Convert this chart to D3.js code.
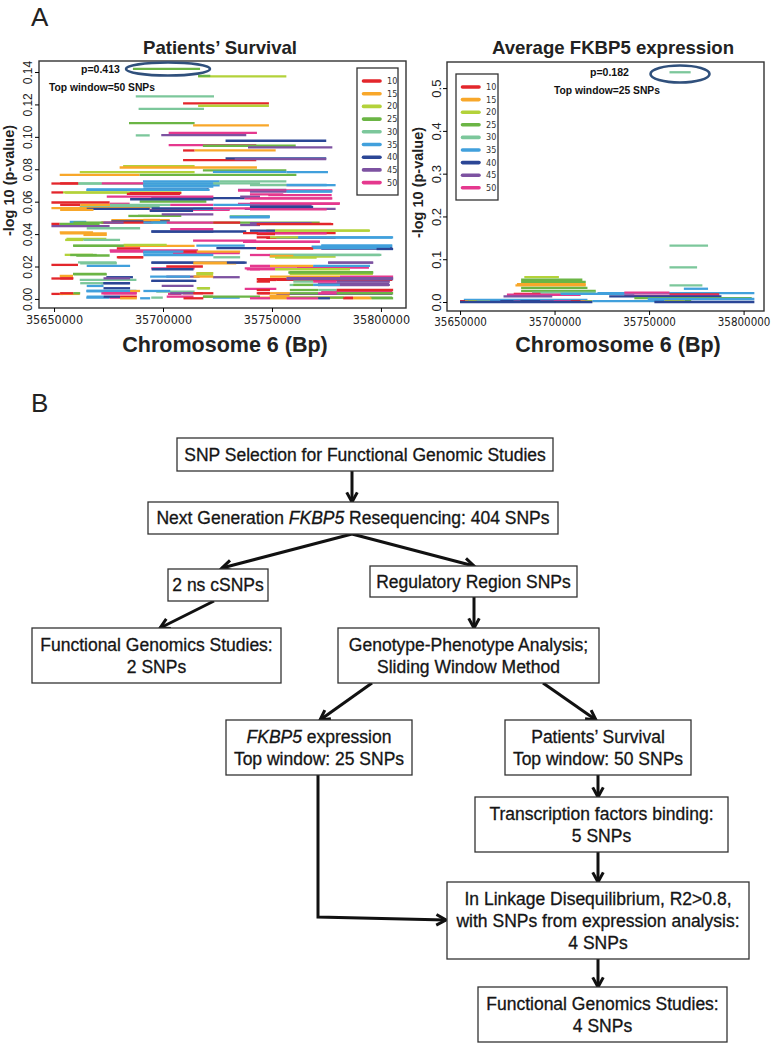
<!DOCTYPE html>
<html lang="en">
<head>
<meta charset="UTF-8">
<title>FKBP5 sliding window SNP selection</title>
<script src="https://cdn.jsdelivr.net/npm/d3@7/dist/d3.min.js"></script>
<style>
  body { margin: 0; background: #fff; }
  svg { display: block; font-family: "Liberation Sans", Arial, sans-serif; }
  .narrow { font-family: "Liberation Sans Narrow", "Arial Narrow", "DejaVu Sans Condensed", sans-serif; }
</style>
</head>
<body>
<svg id="fig" width="771" height="1046"></svg>
<script>
// ---- data ----
const windowSizes = [10, 15, 20, 25, 30, 35, 40, 45, 50];
const windowColors = ['#e3262b', '#f8a72a', '#b3d23a', '#6bb545', '#7cc79b', '#41a0dc', '#2b4696', '#7d52a1', '#e5388e'];
const xTicks = [35650000, 35700000, 35750000, 35800000];
const survivalYTicks = [0, 0.02, 0.04, 0.06, 0.08, 0.10, 0.12, 0.14];
const exprYTicks = [0, 0.1, 0.2, 0.3, 0.4, 0.5];

// [start kb, end kb, -log10 p, window size]
const survivalSegments = [
  [35686.2, 35717.0, 0.1419, 25], [35716.1, 35756.6, 0.1373, 20], [35716.1, 35721.7, 0.1376, 25],
  [35687.5, 35723.4, 0.1250, 30], [35709.2, 35748.6, 0.1206, 10], [35716.1, 35748.6, 0.1192, 20],
  [35688.8, 35718.8, 0.1172, 30], [35684.4, 35714.5, 0.1085, 25], [35713.8, 35748.6, 0.1071, 15],
  [35687.5, 35693.9, 0.1009, 30], [35699.2, 35738.2, 0.1011, 45], [35702.6, 35743.1, 0.1025, 50],
  [35728.7, 35774.9, 0.0976, 40], [35702.6, 35742.8, 0.0949, 50], [35718.3, 35760.9, 0.0945, 25],
  [35739.0, 35777.7, 0.0935, 45], [35709.2, 35714.5, 0.0916, 10], [35714.5, 35751.7, 0.0916, 15],
  [35709.2, 35742.8, 0.0856, 10], [35728.7, 35774.9, 0.0867, 40], [35732.9, 35774.9, 0.0862, 45],
  [35681.7, 35714.5, 0.0819, 20], [35680.1, 35743.1, 0.0811, 15], [35652.6, 35689.3, 0.0766, 15],
  [35661.8, 35714.5, 0.0782, 20], [35718.3, 35756.6, 0.0793, 25], [35722.9, 35756.6, 0.0784, 35],
  [35756.6, 35775.7, 0.0782, 35], [35689.3, 35761.2, 0.0766, 25], [35648.8, 35661.0, 0.0712, 10],
  [35661.0, 35726.0, 0.0712, 30], [35690.8, 35726.0, 0.0725, 35], [35690.8, 35726.0, 0.0700, 35],
  [35691.0, 35721.0, 0.0676, 40], [35726.0, 35756.6, 0.0725, 30], [35756.6, 35772.6, 0.0702, 45],
  [35772.6, 35779.2, 0.0702, 35], [35648.8, 35654.1, 0.0657, 10], [35654.1, 35708.4, 0.0657, 20],
  [35684.7, 35708.4, 0.0653, 10], [35664.8, 35721.4, 0.0673, 35], [35734.4, 35756.6, 0.0673, 45],
  [35734.4, 35777.7, 0.0669, 50], [35756.6, 35777.7, 0.0663, 35], [35648.8, 35675.5, 0.0595, 10],
  [35675.5, 35684.7, 0.0587, 50], [35689.3, 35719.9, 0.0601, 25], [35694.6, 35737.5, 0.0622, 40],
  [35737.5, 35777.7, 0.0620, 50], [35661.8, 35698.5, 0.0566, 30], [35648.8, 35693.9, 0.0560, 15],
  [35665.0, 35693.9, 0.0556, 40], [35693.9, 35730.6, 0.0550, 50], [35737.5, 35779.2, 0.0556, 45],
  [35734.4, 35781.0, 0.0587, 50], [35693.9, 35713.8, 0.0544, 40], [35713.8, 35730.6, 0.0556, 35],
  [35688.5, 35708.4, 0.0513, 25], [35730.6, 35748.9, 0.0510, 30], [35730.6, 35748.9, 0.0504, 35],
  [35657.2, 35664.8, 0.0475, 35], [35676.3, 35703.1, 0.0486, 15], [35676.3, 35703.1, 0.0478, 40],
  [35671.7, 35695.4, 0.0471, 10], [35648.8, 35652.6, 0.0463, 10], [35652.6, 35670.9, 0.0463, 25],
  [35648.8, 35675.5, 0.0449, 45], [35694.6, 35721.4, 0.0471, 30], [35721.4, 35771.9, 0.0471, 25],
  [35743.6, 35777.2, 0.0463, 10], [35652.6, 35667.9, 0.0410, 15], [35694.6, 35738.2, 0.0416, 40],
  [35655.7, 35674.0, 0.0371, 20], [35747.4, 35794.5, 0.0422, 20], [35736.7, 35779.2, 0.0406, 10],
  [35747.4, 35779.2, 0.0377, 10], [35752.0, 35805.2, 0.0379, 35], [35658.7, 35684.7, 0.0329, 25],
  [35713.8, 35742.8, 0.0360, 50], [35736.7, 35771.9, 0.0352, 50], [35675.5, 35716.1, 0.0299, 50],
  [35682.4, 35714.5, 0.0327, 15], [35715.3, 35737.5, 0.0329, 35], [35724.5, 35742.8, 0.0313, 40],
  [35742.8, 35772.6, 0.0313, 10], [35772.6, 35805.2, 0.0330, 35], [35772.6, 35805.2, 0.0323, 35],
  [35772.6, 35805.2, 0.0311, 40], [35660.2, 35675.5, 0.0268, 25], [35654.9, 35667.9, 0.0272, 20],
  [35679.4, 35690.8, 0.0257, 10], [35690.8, 35735.2, 0.0286, 35], [35704.6, 35735.2, 0.0282, 50],
  [35748.9, 35800.2, 0.0272, 30], [35748.9, 35779.2, 0.0261, 20], [35648.8, 35661.0, 0.0210, 10],
  [35661.0, 35678.6, 0.0226, 30], [35694.6, 35737.5, 0.0224, 40], [35713.8, 35733.6, 0.0220, 15],
  [35737.5, 35761.2, 0.0189, 50], [35775.7, 35796.3, 0.0224, 45], [35761.2, 35794.5, 0.0194, 50],
  [35694.6, 35714.5, 0.0189, 50], [35701.5, 35718.3, 0.0200, 10], [35652.6, 35658.7, 0.0142, 15],
  [35658.7, 35674.0, 0.0154, 25], [35674.0, 35686.2, 0.0134, 40], [35648.8, 35658.7, 0.0126, 10],
  [35661.8, 35687.8, 0.0117, 30], [35671.7, 35684.7, 0.0097, 40], [35694.6, 35715.3, 0.0111, 40],
  [35701.5, 35716.8, 0.0138, 45], [35715.3, 35722.9, 0.0159, 15], [35715.3, 35722.9, 0.0150, 20],
  [35722.9, 35735.2, 0.0134, 45], [35743.6, 35752.0, 0.0117, 10], [35752.0, 35805.2, 0.0117, 10],
  [35758.1, 35796.3, 0.0165, 25], [35758.1, 35796.3, 0.0155, 20], [35771.1, 35803.7, 0.0095, 45],
  [35771.1, 35803.7, 0.0086, 45], [35758.1, 35771.9, 0.0086, 30], [35648.8, 35654.1, 0.0031, 10],
  [35652.6, 35661.8, 0.0031, 15], [35664.8, 35687.8, 0.0049, 35], [35671.7, 35687.8, 0.0035, 50],
  [35696.9, 35714.5, 0.0045, 30], [35702.3, 35708.4, 0.0031, 50], [35709.2, 35718.3, 0.0035, 10],
  [35716.1, 35721.4, 0.0066, 25], [35664.8, 35675.5, 0.0008, 35], [35675.5, 35686.2, 0.0008, 50],
  [35694.6, 35699.9, 0.0008, 30], [35722.9, 35735.2, 0.0008, 35], [35718.3, 35722.9, 0.0014, 25],
  [35743.6, 35748.9, 0.0035, 10], [35743.6, 35783.3, 0.0008, 15], [35783.3, 35787.2, 0.0008, 10],
  [35787.2, 35794.8, 0.0008, 15], [35794.8, 35805.2, 0.0008, 25], [35748.9, 35758.1, 0.0019, 15],
  [35758.1, 35783.3, 0.0008, 25], [35737.5, 35752.0, 0.0062, 50], [35772.6, 35805.2, 0.0045, 50],
  [35752.0, 35805.2, 0.0031, 45],
  // denser lower-left block
  [35652.8, 35661.2, 0.0713, 10], [35661.2, 35671.9, 0.0713, 30], [35671.9, 35691.0, 0.0713, 50],
  [35691.0, 35723.1, 0.0713, 35], [35691.0, 35723.1, 0.0693, 35], [35723.1, 35744.5, 0.0713, 30],
  [35665.0, 35720.1, 0.0676, 35], [35655.1, 35683.4, 0.0656, 20], [35683.4, 35707.8, 0.0648, 10],
  [35674.2, 35723.1, 0.0631, 50], [35735.4, 35744.5, 0.0631, 45], [35684.9, 35723.1, 0.0615, 40],
  [35652.8, 35662.0, 0.0580, 10], [35662.0, 35675.7, 0.0580, 15], [35675.7, 35703.3, 0.0580, 30],
  [35703.3, 35723.1, 0.0580, 50], [35723.1, 35744.5, 0.0580, 35], [35694.8, 35723.1, 0.0559, 40],
  [35723.1, 35744.5, 0.0559, 50], [35652.8, 35668.1, 0.0549, 15], [35699.4, 35723.1, 0.0522, 45],
  [35684.1, 35694.1, 0.0512, 25], [35691.0, 35698.7, 0.0487, 15], [35658.9, 35672.7, 0.0471, 25],
  [35672.7, 35681.9, 0.0471, 45], [35691.0, 35701.7, 0.0471, 35], [35701.7, 35723.1, 0.0471, 50],
  [35723.1, 35735.4, 0.0471, 10], [35735.4, 35744.5, 0.0456, 45], [35665.0, 35689.5, 0.0436, 30],
  [35703.3, 35723.1, 0.0430, 50], [35694.8, 35723.1, 0.0415, 40], [35652.8, 35674.2, 0.0405, 15],
  [35663.5, 35674.2, 0.0395, 15], [35655.1, 35663.5, 0.0364, 20], [35663.5, 35680.3, 0.0364, 30],
  [35681.9, 35701.7, 0.0333, 20], [35658.9, 35681.9, 0.0327, 25], [35678.8, 35689.5, 0.0312, 10],
  [35675.7, 35691.0, 0.0292, 50], [35691.0, 35709.4, 0.0292, 35], [35709.4, 35715.5, 0.0292, 10],
  [35715.5, 35735.4, 0.0292, 15], [35691.0, 35723.1, 0.0271, 35], [35657.4, 35669.6, 0.0271, 25],
  [35678.8, 35691.0, 0.0257, 10], [35723.1, 35735.4, 0.0257, 30], [35694.8, 35714.0, 0.0224, 40],
  [35714.0, 35729.3, 0.0224, 15], [35729.3, 35738.4, 0.0224, 40], [35662.0, 35678.8, 0.0220, 30],
  [35665.0, 35684.9, 0.0204, 35], [35694.8, 35714.0, 0.0183, 40], [35738.4, 35744.5, 0.0183, 50],
  [35715.5, 35723.1, 0.0158, 20], [35658.9, 35674.2, 0.0152, 25], [35694.1, 35712.4, 0.0138, 35],
  [35714.0, 35723.1, 0.0138, 15], [35652.8, 35658.9, 0.0127, 10], [35672.7, 35684.9, 0.0127, 45],
  [35694.8, 35714.0, 0.0111, 40], [35662.0, 35672.7, 0.0097, 30], [35672.7, 35684.9, 0.0097, 40],
  [35665.0, 35672.7, 0.0080, 35], [35699.4, 35714.0, 0.0080, 45], [35672.7, 35684.9, 0.0066, 40],
  [35715.5, 35721.6, 0.0066, 20], [35665.0, 35684.9, 0.0049, 35], [35684.9, 35689.5, 0.0049, 15],
  [35691.0, 35703.3, 0.0049, 35], [35652.8, 35658.9, 0.0035, 10], [35658.9, 35662.0, 0.0035, 25],
  [35672.7, 35688.0, 0.0035, 50], [35703.3, 35714.0, 0.0035, 45], [35714.0, 35723.1, 0.0035, 10],
  [35665.0, 35672.7, 0.0014, 35], [35672.7, 35680.3, 0.0014, 40], [35680.3, 35688.0, 0.0014, 10],
  [35701.7, 35714.0, 0.0014, 50], [35718.5, 35744.5, 0.0014, 25], [35680.3, 35688.0, 0.0004, 15],
  [35689.5, 35694.1, 0.0004, 35], [35709.4, 35718.5, 0.0004, 10],
  // denser lower-right block
  [35739.9, 35756.7, 0.0703, 30], [35756.7, 35775.1, 0.0703, 35], [35739.9, 35756.7, 0.0662, 45],
  [35756.7, 35777.4, 0.0662, 35], [35739.9, 35755.2, 0.0645, 50], [35748.3, 35777.4, 0.0640, 50],
  [35739.9, 35777.4, 0.0621, 50], [35739.9, 35781.2, 0.0590, 50], [35739.9, 35768.2, 0.0574, 45],
  [35739.9, 35768.9, 0.0568, 40], [35739.9, 35775.1, 0.0553, 50], [35739.9, 35749.1, 0.0508, 35],
  [35739.9, 35768.2, 0.0467, 45], [35743.0, 35778.1, 0.0462, 10], [35739.9, 35751.4, 0.0421, 40],
  [35751.4, 35795.0, 0.0421, 20], [35743.7, 35775.1, 0.0405, 50], [35743.0, 35751.4, 0.0400, 10],
  [35743.0, 35749.1, 0.0380, 10], [35749.1, 35762.1, 0.0380, 20], [35762.1, 35805.6, 0.0380, 35],
  [35739.9, 35772.0, 0.0354, 50], [35768.2, 35804.1, 0.0322, 35], [35768.2, 35804.1, 0.0315, 35],
  [35798.0, 35805.6, 0.0308, 40], [35743.0, 35768.9, 0.0310, 10], [35739.9, 35749.1, 0.0271, 50],
  [35749.1, 35799.5, 0.0271, 30], [35749.1, 35759.8, 0.0265, 15], [35751.4, 35770.5, 0.0255, 20],
  [35775.8, 35796.5, 0.0224, 45], [35739.9, 35749.1, 0.0204, 50], [35749.1, 35768.9, 0.0204, 15],
  [35768.9, 35795.0, 0.0204, 35], [35739.9, 35751.4, 0.0183, 50], [35751.4, 35785.8, 0.0183, 20],
  [35757.5, 35796.5, 0.0163, 25], [35749.1, 35781.2, 0.0138, 15], [35781.2, 35805.6, 0.0138, 50],
  [35743.0, 35756.7, 0.0122, 10], [35756.7, 35805.6, 0.0122, 45], [35756.7, 35805.6, 0.0128, 45],
  [35743.0, 35749.1, 0.0107, 10], [35759.8, 35768.9, 0.0107, 30], [35768.9, 35779.7, 0.0107, 50],
  [35779.7, 35804.1, 0.0107, 45], [35759.8, 35768.9, 0.0087, 25], [35768.9, 35781.2, 0.0087, 35],
  [35781.2, 35804.1, 0.0087, 45], [35743.0, 35749.1, 0.0055, 10], [35758.2, 35771.2, 0.0055, 25],
  [35771.2, 35779.7, 0.0055, 30], [35779.7, 35805.6, 0.0055, 10], [35743.0, 35749.1, 0.0035, 10],
  [35749.1, 35758.2, 0.0035, 15], [35758.2, 35771.2, 0.0035, 25], [35771.2, 35779.7, 0.0035, 50],
  [35779.7, 35805.6, 0.0035, 25], [35739.9, 35749.1, 0.0004, 50], [35749.1, 35756.7, 0.0004, 15],
  [35756.7, 35771.2, 0.0004, 50], [35771.2, 35776.6, 0.0004, 40], [35782.7, 35787.3, 0.0004, 10],
  [35787.3, 35795.7, 0.0004, 15], [35795.7, 35805.6, 0.0004, 25]
];

const exprSegments = [
  [35760.8, 35772.0, 0.537, 30], [35760.8, 35781.2, 0.132, 30], [35760.8, 35775.4, 0.081, 30],
  [35760.8, 35778.2, 0.039, 30], [35768.4, 35781.2, 0.031, 35], [35684.0, 35702.3, 0.058, 20],
  [35682.3, 35714.7, 0.052, 25], [35682.3, 35716.5, 0.047, 25], [35680.1, 35716.5, 0.042, 15],
  [35679.3, 35716.5, 0.039, 15], [35682.3, 35717.4, 0.033, 25], [35682.3, 35721.8, 0.026, 25],
  [35688.1, 35721.8, 0.022, 30], [35678.4, 35692.6, 0.019, 10], [35674.8, 35713.8, 0.017, 50],
  [35673.0, 35698.8, 0.013, 45], [35703.2, 35742.2, 0.019, 35], [35722.7, 35805.7, 0.021, 35],
  [35736.9, 35760.8, 0.022, 50], [35760.8, 35787.1, 0.018, 10], [35736.9, 35787.1, 0.015, 50],
  [35728.9, 35788.3, 0.013, 40], [35742.2, 35804.3, 0.009, 25], [35652.0, 35717.4, 0.005, 35],
  [35749.3, 35805.7, 0.007, 35],
  [35650.0, 35652.7, 0.002, 10], [35652.7, 35654.4, 0.002, 15], [35654.4, 35658.9, 0.002, 20],
  [35658.9, 35666.0, 0.002, 30], [35666.0, 35671.3, 0.002, 35], [35671.3, 35678.4, 0.002, 40],
  [35678.4, 35681.9, 0.002, 45], [35681.9, 35692.6, 0.002, 40], [35692.6, 35699.6, 0.002, 45],
  [35699.6, 35708.5, 0.002, 50], [35708.5, 35713.8, 0.002, 10], [35713.8, 35716.5, 0.002, 15],
  [35716.5, 35720.0, 0.002, 20], [35720.0, 35758.2, 0.002, 35], [35758.2, 35768.8, 0.002, 20],
  [35768.8, 35772.3, 0.002, 25], [35752.8, 35805.7, 0.000, 40], [35650.0, 35720.0, 0.000, 40]
];

// ---- drawing ----
const svg = d3.select('#fig');
const colorOf = d3.scaleOrdinal().domain(windowSizes).range(windowColors);

svg.append('text').attr('x', 31).attr('y', 26).attr('font-size', 26).attr('fill', '#222').text('A');
svg.append('text').attr('x', 31).attr('y', 412).attr('font-size', 26).attr('fill', '#222').text('B');

function drawPanel(p) {
  const g = svg.append('g');
  const x = d3.scaleLinear().domain(p.xDomain).range([p.left, p.right]);
  const y = d3.scaleLinear().domain(p.yDomain).range([p.bottom, p.top]);

  g.append('clipPath').attr('id', p.id + '-clip')
    .append('rect').attr('x', p.left).attr('y', p.top)
    .attr('width', p.right - p.left).attr('height', p.bottom - p.top);

  g.append('g').attr('clip-path', `url(#${p.id}-clip)`)
    .selectAll('line').data(p.segments).join('line')
    .attr('x1', d => x(d[0] * 1000)).attr('x2', d => x(d[1] * 1000))
    .attr('y1', d => y(d[2])).attr('y2', d => y(d[2]))
    .attr('stroke', d => colorOf(d[3]))
    .attr('stroke-width', 2.3);

  g.append('rect').attr('x', p.left).attr('y', p.top)
    .attr('width', p.right - p.left).attr('height', p.bottom - p.top)
    .attr('fill', 'none').attr('stroke', '#333').attr('stroke-width', 1.4);

  const xa = g.append('g').attr('transform', `translate(0,${p.bottom})`)
    .call(d3.axisBottom(x).tickValues(xTicks).tickSize(4).tickPadding(3).tickFormat(d3.format('d')));
  xa.select('.domain').remove();
  xa.selectAll('text').attr('class', 'narrow').attr('font-size', p.xTickSize).attr('fill', '#222');

  const ya = g.append('g').attr('transform', `translate(${p.left},0)`)
    .call(d3.axisLeft(y).tickValues(p.yTicks).tickSize(4).tickFormat(d3.format(p.yFormat)));
  ya.select('.domain').remove();
  ya.selectAll('text')
    .attr('transform', 'rotate(-90)')
    .attr('x', 0).attr('y', p.yLabelOff).attr('dy', 0)
    .attr('text-anchor', 'middle')
    .attr('font-family', '"Liberation Sans", Arial, sans-serif')
    .attr('font-size', p.yTickSize).attr('fill', '#222');

  g.append('text').attr('x', p.titleX).attr('y', 54).attr('text-anchor', 'middle')
    .attr('font-size', 18.6).attr('font-weight', 'bold').attr('fill', '#222').text(p.title);
  g.append('text').attr('x', p.titleX + 5).attr('y', 352).attr('text-anchor', 'middle')
    .attr('font-size', 21.5).attr('font-weight', 'bold').attr('fill', '#222').text('Chromosome 6 (Bp)');
  g.append('text').attr('transform', `translate(${p.yTitleX},${(p.top + p.bottom) / 2 - 4}) rotate(-90)`)
    .attr('text-anchor', 'middle').attr('font-size', 14.5).attr('font-weight', 'bold')
    .attr('fill', '#222').text('-log 10 (p-value)');

  // legend
  const lg = g.append('g');
  lg.append('rect').attr('x', p.legend.x).attr('y', p.legend.y)
    .attr('width', p.legend.w).attr('height', p.legend.h)
    .attr('fill', '#fff').attr('stroke', '#333').attr('stroke-width', 1.3);
  const items = lg.selectAll('g').data(windowSizes).join('g')
    .attr('transform', (d, i) => `translate(${p.legend.x},${p.legend.y + 13 + i * p.legend.step})`);
  items.append('line').attr('x1', 6.5).attr('x2', 23).attr('y1', 0).attr('y2', 0)
    .attr('stroke', d => colorOf(d)).attr('stroke-width', 3.6).attr('stroke-linecap', 'round');
  items.append('text').attr('class', 'narrow').attr('x', 30).attr('y', 3)
    .attr('font-size', 9).attr('fill', '#333').text(d => d);

  // top window annotation
  const a = p.note;
  g.append('ellipse').attr('cx', a.cx).attr('cy', a.cy).attr('rx', a.rx).attr('ry', a.ry)
    .attr('fill', 'none').attr('stroke', '#30507c').attr('stroke-width', 2.6);
  g.append('text').attr('x', a.px).attr('y', a.py).attr('font-size', 10.5)
    .attr('font-weight', 'bold').attr('fill', '#111').text(a.p);
  g.append('text').attr('x', a.tx).attr('y', a.ty).attr('font-size', 10.3)
    .attr('font-weight', 'bold').attr('fill', '#111').text(a.t);
}

drawPanel({
  id: 'surv', title: 'Patients\u2019 Survival', segments: survivalSegments,
  left: 39, right: 406, top: 61, bottom: 308,
  xDomain: [35643100, 35811500], yDomain: [-0.0056, 0.1468],
  yTicks: survivalYTicks, yFormat: '.2f', yTickSize: 12, yLabelOff: -7, xTickSize: 12.5,
  titleX: 220, yTitleX: 14,
  legend: { x: 357, y: 68, w: 41, h: 127, step: 12.7 },
  note: { cx: 168, cy: 69, rx: 42, ry: 6.5, p: 'p=0.413', px: 81, py: 73, t: 'Top window=50 SNPs', tx: 49, ty: 91 }
});

drawPanel({
  id: 'expr', title: 'Average FKBP5 expression', segments: exprSegments,
  left: 447, right: 764, top: 62, bottom: 311,
  xDomain: [35643100, 35810800], yDomain: [-0.021, 0.561],
  yTicks: exprYTicks, yFormat: '.1f', yTickSize: 13, yLabelOff: -6, xTickSize: 11.5,
  titleX: 613, yTitleX: 423,
  legend: { x: 456, y: 74, w: 42, h: 126, step: 12.6 },
  note: { cx: 680, cy: 74, rx: 29.5, ry: 8.5, p: 'p=0.182', px: 590, py: 76, t: 'Top window=25 SNPs', tx: 554, ty: 94 }
});

// ---- panel B flowchart ----
const boxes = [
  { x: 177, y: 438, w: 376, h: 33, lines: [[['SNP Selection for Functional Genomic Studies']]] },
  { x: 148, y: 502, w: 410, h: 32, lines: [[['Next Generation '], ['FKBP5', 1], [' Resequencing: 404 SNPs']]] },
  { x: 168, y: 569, w: 100, h: 32, lines: [[['2 ns cSNPs']]] },
  { x: 370, y: 566, w: 207, h: 31, lines: [[['Regulatory Region SNPs']]] },
  { x: 32, y: 628, w: 249, h: 55, lines: [[['Functional Genomics Studies:']], [['2 SNPs']]] },
  { x: 338, y: 628, w: 261, h: 55, lines: [[['Genotype-Phenotype Analysis;']], [['Sliding Window Method']]] },
  { x: 226, y: 720, w: 186, h: 55, lines: [[['FKBP5', 1], [' expression']], [['Top window: 25 SNPs']]] },
  { x: 505, y: 720, w: 186, h: 55, lines: [[['Patients\u2019 Survival']], [['Top window: 50 SNPs']]] },
  { x: 475, y: 797, w: 253, h: 55, lines: [[['Transcription factors binding:']], [['5 SNPs']]] },
  { x: 447, y: 882, w: 302, h: 77, lines: [[['In Linkage Disequilibrium, R2>0.8,']], [['with SNPs from expression analysis:']], [['4 SNPs']]] },
  { x: 478, y: 987, w: 249, h: 55, lines: [[['Functional Genomics Studies:']], [['4 SNPs']]] }
];

const arrows = [
  [[352, 471], [352, 502]],
  [[352, 534], [222, 568]],
  [[352, 534], [474, 566]],
  [[214, 601], [160, 628]],
  [[474, 597], [474, 628]],
  [[372, 683], [320, 720]],
  [[543, 683], [596, 720]],
  [[598, 775], [598, 797]],
  [[318, 775], [318, 917], [446, 920]],
  [[598, 852], [598, 882]],
  [[598, 959], [598, 987]]
];

const fc = svg.append('g');
fc.selectAll('path.arrow').data(arrows).join('path')
  .attr('d', d => d3.line()(d))
  .attr('fill', 'none').attr('stroke', '#111').attr('stroke-width', 3);

fc.selectAll('path.head').data(arrows).join('path')
  .attr('d', d => {
    const [x1, y1] = d[d.length - 2], [x2, y2] = d[d.length - 1];
    const ang = Math.atan2(y2 - y1, x2 - x1), len = 11, spread = 0.5;
    const a = [x2 - len * Math.cos(ang - spread), y2 - len * Math.sin(ang - spread)];
    const b = [x2 - len * Math.cos(ang + spread), y2 - len * Math.sin(ang + spread)];
    return d3.line()([a, [x2, y2], b]);
  })
  .attr('fill', 'none').attr('stroke', '#111').attr('stroke-width', 3)
  .attr('stroke-linejoin', 'miter');

const bx = fc.selectAll('g.box').data(boxes).join('g');
bx.append('rect').attr('x', d => d.x).attr('y', d => d.y).attr('width', d => d.w).attr('height', d => d.h)
  .attr('fill', '#fff').attr('stroke', '#333').attr('stroke-width', 1.3);
bx.each(function (d) {
  const n = d.lines.length, lh = 22;
  const y0 = d.y + d.h / 2 - (n - 1) * lh / 2 + 6;
  d.lines.forEach((parts, i) => {
    const t = d3.select(this).append('text')
      .attr('x', d.x + d.w / 2).attr('y', y0 + i * lh)
      .attr('text-anchor', 'middle').attr('font-size', 17.5).attr('fill', '#151515')
      .attr('stroke', '#151515').attr('stroke-width', 0.3);
    parts.forEach(pt => t.append('tspan').attr('font-style', pt[1] ? 'italic' : null).text(pt[0]));
  });
});
</script>
</body>
</html>
